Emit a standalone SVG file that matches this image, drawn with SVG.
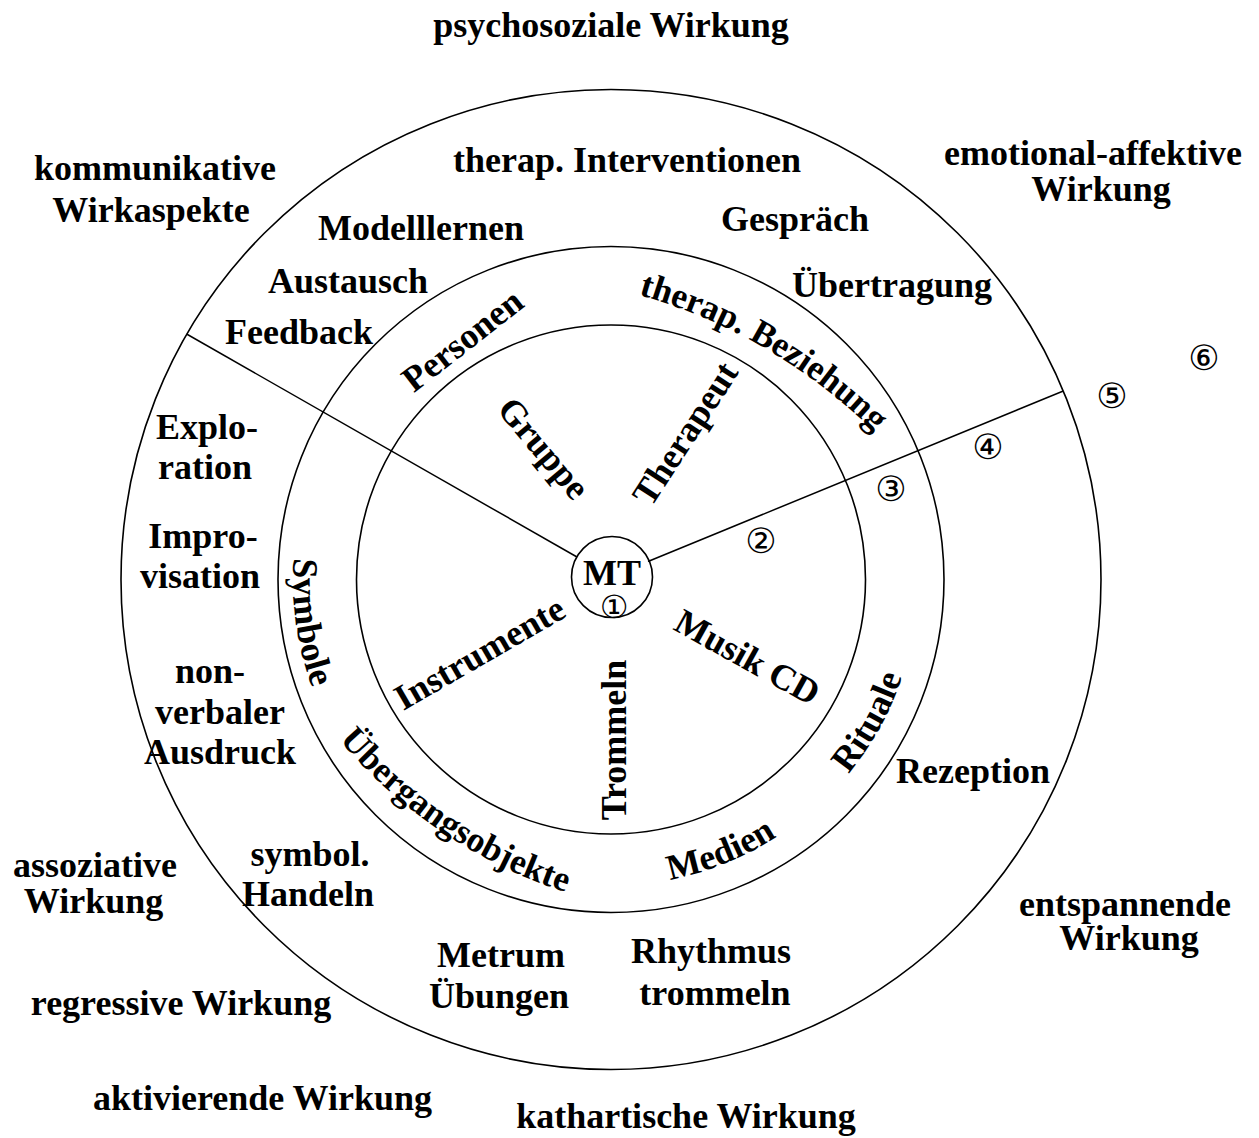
<svg xmlns="http://www.w3.org/2000/svg" xmlns:xlink="http://www.w3.org/1999/xlink" width="1259" height="1138" viewBox="0 0 1259 1138">
  <style>
    .t { font-family: "Liberation Serif", "Times New Roman", serif; font-weight: bold; font-size: 36px; text-anchor: middle; fill: #000; }
    .arc { font-size: 35.5px; }
    .n { font-family: "DejaVu Sans", sans-serif; font-size: 35px; text-anchor: middle; fill: #000; }
    .ring { fill: none; stroke: #000; stroke-width: 1.6; }
    .line { fill: none; stroke: #000; stroke-width: 1.5; }
  </style>
  <defs>
    <!-- guide arcs for the curved ring labels -->
    <path id="arcBeziehung" d="M488.6,273.9 A550,550 0 0 1 964.9,548.9"/>
    <path id="arcSymbole" d="M335.6,420.5 A318,318 0 1 0 886.4,420.5"/>
    <path id="arcUebergang" d="M250.8,587.8 A500,500 0 0 0 720.6,916.8"/>
    <path id="arcMedien" d="M346,426.5 A306,306 0 1 0 876,426.5"/>
    <path id="arcRituale" d="M345.1,426 A307,307 0 1 0 876.9,426"/>
  </defs>
  <rect width="1259" height="1138" fill="#fff"/>

  <!-- circles -->
  <g id="rings">
    <circle id="ring-outer" class="ring" cx="611" cy="579.5" r="490"/>
    <circle id="ring-middle" class="ring" cx="611" cy="579.5" r="333"/>
    <circle id="ring-inner" class="ring" cx="611" cy="579.5" r="254.5"/>
  </g>

  <!-- dividing lines -->
  <g id="connectors">
    <line class="line" x1="577" y1="557" x2="186.6" y2="334"/>
    <line class="line" x1="648" y1="561.5" x2="1063.3" y2="391"/>
  </g>

  <!-- centre -->
  <g id="node-mt">
    <circle class="ring" cx="612" cy="577" r="40.5"/>
    <text class="t" x="612" y="585">MT</text>
    <text class="n" x="614" y="617.5" style="font-size:32px">①</text>
  </g>

  <!-- inner ring: spokes -->
  <g id="node-gruppe"><text class="t" transform="translate(543,449) rotate(50)" y="11">Gruppe</text></g>
  <g id="node-therapeut"><text class="t" transform="translate(686,434) rotate(-57)" y="11">Therapeut</text></g>
  <g id="node-instrumente"><text class="t" transform="translate(480,654) rotate(-30)" y="11">Instrumente</text></g>
  <g id="node-trommeln"><text class="t" transform="translate(615,740) rotate(-90)" y="11">Trommeln</text></g>
  <g id="node-musikcd"><text class="t" transform="translate(747,658) rotate(29)" y="11">Musik CD</text></g>

  <!-- middle ring labels -->
  <g id="node-personen"><text class="t" transform="translate(463,341) rotate(-38)" y="11">Personen</text></g>
  <g id="node-beziehung"><text class="t arc"><textPath xlink:href="#arcBeziehung" href="#arcBeziehung" startOffset="290">therap. Beziehung</textPath></text></g>
  <g id="node-symbole"><text class="t"><textPath xlink:href="#arcSymbole" href="#arcSymbole" startOffset="211">Symbole</textPath></text></g>
  <g id="node-uebergang"><text class="t arc"><textPath xlink:href="#arcUebergang" href="#arcUebergang" startOffset="315">Übergangsobjekte</textPath></text></g>
  <g id="node-medien"><text class="t"><textPath xlink:href="#arcMedien" href="#arcMedien" startOffset="758">Medien</textPath></text></g>
  <g id="node-rituale"><text class="t"><textPath xlink:href="#arcRituale" href="#arcRituale" startOffset="970">Rituale</textPath></text></g>

  <!-- outer ring: methods -->
  <g id="node-interventionen"><text class="t" x="627" y="172">therap. Interventionen</text></g>
  <g id="node-modelllernen"><text class="t" x="421" y="240">Modelllernen</text></g>
  <g id="node-gespraech"><text class="t" x="795" y="231">Gespräch</text></g>
  <g id="node-austausch"><text class="t" x="348" y="293">Austausch</text></g>
  <g id="node-uebertragung"><text class="t" x="892" y="297">Übertragung</text></g>
  <g id="node-feedback"><text class="t" x="299" y="344">Feedback</text></g>
  <g id="node-exploration"><text class="t" x="207" y="439">Explo-</text><text class="t" x="205" y="479">ration</text></g>
  <g id="node-improvisation"><text class="t" x="203" y="548">Impro-</text><text class="t" x="200" y="588">visation</text></g>
  <g id="node-ausdruck"><text class="t" x="210" y="683">non-</text><text class="t" x="220" y="724">verbaler</text><text class="t" x="220" y="764">Ausdruck</text></g>
  <g id="node-handeln"><text class="t" x="310" y="866">symbol.</text><text class="t" x="308" y="906">Handeln</text></g>
  <g id="node-metrum"><text class="t" x="501" y="967">Metrum</text><text class="t" x="499" y="1008">Übungen</text></g>
  <g id="node-rhythmus"><text class="t" x="711" y="963">Rhythmus</text><text class="t" x="715" y="1005">trommeln</text></g>
  <g id="node-rezeption"><text class="t" x="973" y="783">Rezeption</text></g>

  <!-- outside: effects -->
  <g id="node-psychosozial"><text class="t" x="611" y="37">psychosoziale Wirkung</text></g>
  <g id="node-kommunikativ"><text class="t" x="155" y="180">kommunikative</text><text class="t" x="151" y="222">Wirkaspekte</text></g>
  <g id="node-emotional"><text class="t" x="1093" y="165">emotional-affektive</text><text class="t" x="1101" y="201">Wirkung</text></g>
  <g id="node-assoziativ"><text class="t" x="95" y="877">assoziative</text><text class="t" x="93.5" y="913">Wirkung</text></g>
  <g id="node-regressiv"><text class="t" x="181" y="1015">regressive Wirkung</text></g>
  <g id="node-aktivierend"><text class="t" x="262.5" y="1110">aktivierende Wirkung</text></g>
  <g id="node-kathartisch"><text class="t" x="686" y="1128">kathartische Wirkung</text></g>
  <g id="node-entspannend"><text class="t" x="1125" y="916">entspannende</text><text class="t" x="1129" y="950">Wirkung</text></g>

  <!-- ring numbers -->
  <g id="numbers">
    <text class="n" x="761" y="552.6">②</text>
    <text class="n" x="891" y="500.6">③</text>
    <text class="n" x="988" y="458.6">④</text>
    <text class="n" x="1112" y="407.6">⑤</text>
    <text class="n" x="1204" y="369.6">⑥</text>
  </g>
</svg>
